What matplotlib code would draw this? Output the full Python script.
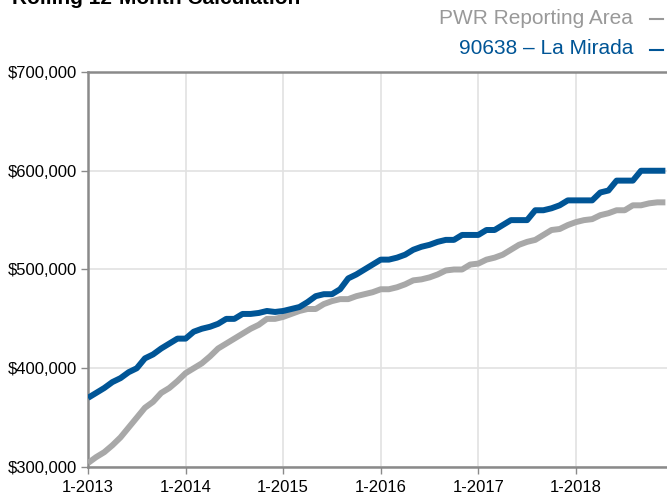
import numpy as np
import matplotlib
matplotlib.use("Agg")
import matplotlib.pyplot as plt
from matplotlib.lines import Line2D
from matplotlib.ticker import FuncFormatter

# monthly rolling 12-month values, Jan 2013 .. Dec 2018 (thousands of $)
la_mirada = [370, 375, 380, 386, 390, 396, 400, 410, 414, 420, 425, 430,
             430, 437, 440, 442, 445, 450, 450, 455, 455, 456, 458, 457,
             458, 460, 462, 467, 473, 475, 475, 480, 491, 495, 500, 505,
             510, 510, 512, 515, 520, 523, 525, 528, 530, 530, 535, 535,
             535, 540, 540, 545, 550, 550, 550, 560, 560, 562, 565, 570,
             570, 570, 570, 578, 580, 590, 590, 590, 600, 600, 600, 600]
pwr_area = [304, 310, 315, 322, 330, 340, 350, 360, 366, 375, 380, 387,
            395, 400, 405, 412, 420, 425, 430, 435, 440, 444, 450, 450,
            452, 455, 458, 460, 460, 465, 468, 470, 470, 473, 475, 477,
            480, 480, 482, 485, 489, 490, 492, 495, 499, 500, 500, 505,
            506, 510, 512, 515, 520, 525, 528, 530, 535, 540, 541, 545,
            548, 550, 551, 555, 557, 560, 560, 565, 565, 567, 568, 568]
year_labels = ["1-2013", "1-2014", "1-2015", "1-2016", "1-2017", "1-2018"]
series_names = ["PWR Reporting Area", "90638 \u2013 La Mirada"]

BLUE = "#005596"
GRAY = "#a8a8a8"
SPINE = "#8a8a8a"
W, H = 667, 495

plt.rcParams["font.family"] = ["Liberation Sans", "DejaVu Sans"]

months = np.arange(len(la_mirada))
fig = plt.figure(figsize=(W / 100, H / 100), dpi=100)
ax = fig.add_axes([88 / W, 28 / H, 1 - 88 / W, 395 / H])

ax.plot(months, np.array(pwr_area) * 1000, color=GRAY, lw=4.3,
        solid_joinstyle="round", solid_capstyle="butt", zorder=3)
ax.plot(months, np.array(la_mirada) * 1000, color=BLUE, lw=4.3,
        solid_joinstyle="round", solid_capstyle="butt", zorder=4)

ax.set_xlim(0, 71.2)
ax.set_ylim(300000, 700000)
ax.set_yticks(np.arange(300000, 700001, 100000))
ax.yaxis.set_major_formatter(FuncFormatter(lambda v, p: f"${v:,.0f}"))
ax.set_xticks(np.arange(0, 72, 12))
ax.set_xticklabels(year_labels)

ax.grid(True, color="#e2e2e2", lw=1.2, zorder=0)
for side in ["left", "bottom", "top"]:
    ax.spines[side].set_color(SPINE)
    ax.spines[side].set_linewidth(1.8)
ax.spines["right"].set_visible(False)
ax.spines["bottom"].set_zorder(5)
ax.tick_params(axis="y", length=5, width=1, color=SPINE, labelsize=12, pad=3)
ax.tick_params(axis="x", length=5, width=1, color=SPINE, labelsize=12, pad=4)

# title, cut by the top edge as in the source
fig.text(12 / W, 1 - 4 / H, "Rolling 12-Month Calculation", fontsize=15,
         fontweight="bold", va="baseline", ha="left")

# legend at top right
for name, col, ypx in [(series_names[0], "#999999", 18),
                       (series_names[1], BLUE, 49)]:
    fig.text(633 / W, 1 - ypx / H, name, color=col, fontsize=15,
             ha="right", va="center")
    fig.add_artist(Line2D([650 / W, 663 / W], [1 - (ypx + 1) / H] * 2,
                          color=col, lw=1.5, transform=fig.transFigure))

fig.savefig("out.png", dpi=100)
